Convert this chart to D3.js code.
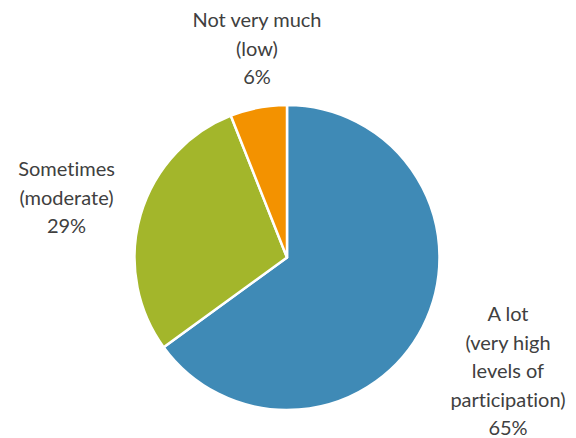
<!DOCTYPE html>
<html><head><meta charset="utf-8">
<script src="https://cdn.jsdelivr.net/npm/d3@7"></script>
<style>body{margin:0;background:#fff}svg{display:block}text{font-variant-ligatures:none;font-feature-settings:"liga" 0}</style>
</head><body>
<svg id="c" width="576" height="438"></svg>
<script>
const categories = ["A lot", "Sometimes", "Not very much"];
const values = [65, 29, 6];
const labelLines = [
  ["A lot", "(very high", "levels of", "participation)", "65%"],
  ["Sometimes", "(moderate)", "29%"],
  ["Not very much", "(low)", "6%"]
];
const colors = ["#3F8AB6", "#A3B62B", "#F39200"];

const svg = d3.select("#c");
const cx = 287, cy = 257.5, r = 152.5;
const g = svg.append("g").attr("transform", `translate(${cx},${cy})`);
const pie = d3.pie().sort(null).value(d => d)(values);
const arc = d3.arc().innerRadius(0).outerRadius(r);
g.selectAll("path").data(pie).join("path")
  .attr("d", arc).attr("fill", (d, i) => colors[i])
  .attr("stroke", "#fff").attr("stroke-width", 2.5).attr("stroke-linejoin", "round");

const labelPos = [[508, 321], [66.5, 176], [257, 27]];
const lh = 28.5;
labelLines.forEach((lines, i) => {
  const t = svg.append("text").attr("text-anchor", "middle")
    .attr("font-family", "Lato, 'Open Sans', sans-serif").attr("font-size", 20)
    .attr("fill", "#404040");
  lines.forEach((s, j) => {
    t.append("tspan").attr("x", labelPos[i][0]).attr("y", labelPos[i][1] + j * lh).text(s);
  });
});
</script>
</body></html>
